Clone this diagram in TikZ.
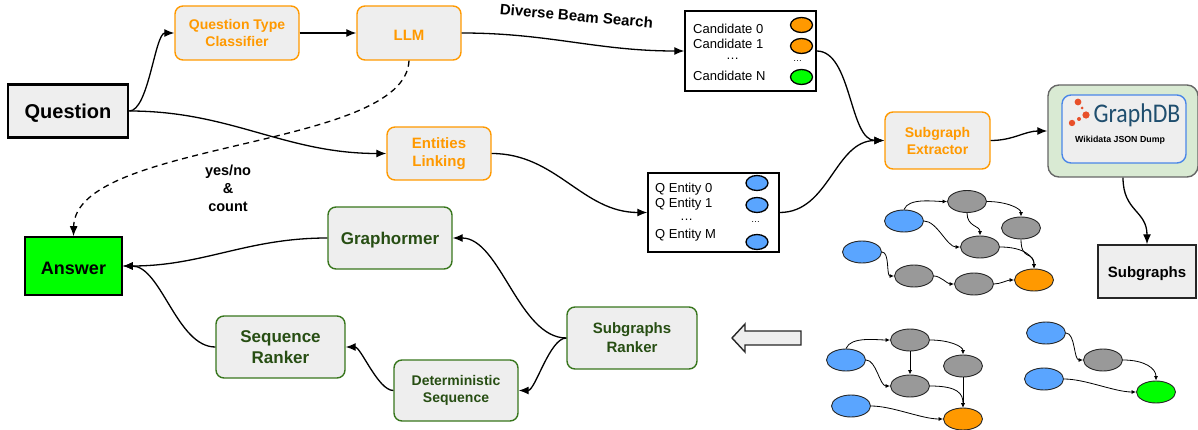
\documentclass[tikz,border=0pt]{standalone}
\usepackage{fontspec}
\setmainfont{Liberation Sans}
\newfontfamily\logofont[FakeStretch=0.88]{Carlito}
\usepackage{tikz}
\usepackage{xcolor}
\usetikzlibrary{arrows.meta}
\usetikzlibrary{shapes}
\definecolor{boxgray}{HTML}{EEEEEE}
\definecolor{nodegray}{HTML}{999999}
\definecolor{nodeblue}{HTML}{5AA5FF}
\definecolor{nodeorange}{HTML}{FF9900}
\definecolor{nodegreen}{HTML}{00FF00}
\definecolor{darkgreen}{HTML}{38761D}
\definecolor{textgreen}{HTML}{274E13}
\definecolor{dbgreen}{HTML}{D9EAD3}
\definecolor{dbblue}{HTML}{4A86E8}
\definecolor{dbtext}{HTML}{1F4E6E}
\definecolor{dbred}{HTML}{E8502A}
\newcommand{\fsize}[2]{\fontsize{#1}{#2}\selectfont}
\tikzstyle{lowered}=[execute at begin node={\rule{0pt}{.95em}}]
\tikzstyle{orangebox}=[draw=nodeorange, fill=boxgray, line width=1.4pt, rounded corners=8pt, align=center, text=nodeorange, inner sep=0pt, lowered]
\tikzstyle{greenbox}=[draw=darkgreen, fill=boxgray, line width=1.4pt, rounded corners=8pt, align=center, text=textgreen, inner sep=0pt, lowered]
\tikzstyle{listbox}=[draw=black, fill=white, line width=1.4pt, inner sep=0pt]
\tikzstyle{listtext}=[anchor=west, inner sep=0pt, font=\fsize{13}{15}]
\tikzstyle{token}=[ellipse, draw=black, line width=1.3pt, minimum width=22pt, minimum height=15pt, inner sep=0pt]
\tikzstyle{vertex}=[ellipse, draw=black!85, line width=.9pt, minimum width=39pt, minimum height=22pt, inner sep=0pt]
\tikzstyle{link}=[line width=1.3pt, -{Latex[length=10pt,width=8pt]}]
\tikzstyle{thin link}=[line width=.8pt, -{Latex[length=4.5pt,width=4pt]}, looseness=.75]
\begin{document}
\begin{tikzpicture}[x=1pt, y=-1pt]
\useasboundingbox (0,0) rectangle (1198,430);
%
	\node[draw=black, fill=boxgray, line width=2.6pt, minimum width=120pt, minimum height=53pt, inner sep=0pt, font=\fsize{20}{24}\bfseries, lowered] (question) at (68,111) {Question};
	\node[orangebox, minimum width=124pt, minimum height=54pt, font=\fsize{14}{17}\bfseries] (qtype) at (237,33) {Question Type\\Classifier};
	\node[orangebox, minimum width=104pt, minimum height=54pt, font=\fsize{15}{18}\bfseries] (llm) at (409,33) {LLM};
	\node[orangebox, minimum width=104pt, minimum height=53pt, font=\fsize{15}{18}\bfseries] (entities) at (439,153.5) {Entities\\Linking};
	\node[orangebox, minimum width=105pt, minimum height=57pt, font=\fsize{14}{17}\bfseries] (extractor) at (937.5,140.5) {Subgraph\\Extractor};
%
	\node[listbox, minimum width=131pt, minimum height=80pt] (candidates) at (750.5,51) {};
	\node[listtext] (cand0) at (693,28.5) {Candidate 0};
	\node[listtext] (cand1) at (693,43.5) {Candidate 1};
	\node[listtext] (canddots) at (726,59) {\dots};
	\node[listtext] (candN) at (693,75.5) {Candidate N};
	\node[token, fill=nodeorange] (candtoken0) at (801.5,25) {};
	\node[token, fill=nodeorange] (candtoken1) at (801.5,46) {};
	\node[listtext, font=\fsize{9}{11}] (tokendots) at (793,61) {\dots};
	\node[token, fill=nodegreen] (candtokenN) at (801.5,77) {};
%
	\node[listbox, minimum width=131pt, minimum height=79pt] (qentities) at (713.5,212.5) {};
	\node[listtext] (qent0) at (655,189.5) {Q Entity 0};
	\node[listtext] (qent1) at (655,204.5) {Q Entity 1};
	\node[listtext] (qentdots) at (680,220) {\dots};
	\node[listtext] (qentM) at (655,235.5) {Q Entity M};
	\node[token, fill=nodeblue] (qtoken0) at (757,183) {};
	\node[token, fill=nodeblue] (qtoken1) at (757,205) {};
	\node[listtext, font=\fsize{9}{11}] (qtokendots) at (751,222) {\dots};
	\node[token, fill=nodeblue] (qtokenM) at (757,242) {};
%
	\node[draw=black!60, fill=dbgreen, line width=1.4pt, rounded corners=11pt, minimum width=150pt, minimum height=92pt, inner sep=0pt] (graphdb) at (1123,131) {};
	\node[draw=dbblue, fill=boxgray, line width=1.4pt, rounded corners=9pt, minimum width=124pt, minimum height=68pt, inner sep=0pt] (graphdbin) at (1124,129) {};
	\node[inner sep=0pt, text=dbtext, font=\logofont\fsize{27}{30}] (logo) at (1137,115) {GraphDB};
	\fill[dbred] (1078,102) circle (3.4pt);
	\fill[dbred] (1082,108) circle (1.5pt);
	\fill[dbred] (1086,115) circle (3.6pt);
	\fill[dbred] (1079,119) circle (2pt);
	\fill[dbred] (1072,123) circle (3.2pt);
	\node[inner sep=0pt, font=\fsize{8.8}{10}\bfseries] (dump) at (1120,140) {Wikidata JSON Dump};
	\node[draw=black!85, fill=boxgray, line width=1.4pt, minimum width=98pt, minimum height=53pt, inner sep=0pt, font=\fsize{15}{18}\bfseries, lowered] (subgraphs) at (1147,271.5) {Subgraphs};
%
	\node[draw=black, fill=nodegreen, line width=1.6pt, minimum width=97pt, minimum height=58pt, inner sep=0pt, font=\fsize{18}{21}\bfseries, lowered] (answer) at (73.5,266) {Answer};
	\node[greenbox, minimum width=124pt, minimum height=62pt, font=\fsize{17}{20}\bfseries] (graphormer) at (390,238) {Graphormer};
	\node[greenbox, minimum width=129pt, minimum height=62pt, font=\fsize{17}{20.5}\bfseries] (seqranker) at (280.5,347) {Sequence\\Ranker};
	\node[greenbox, minimum width=124pt, minimum height=61pt, font=\fsize{14}{17}\bfseries] (detseq) at (456,390.5) {Deterministic\\Sequence};
	\node[greenbox, minimum width=130pt, minimum height=62pt, font=\fsize{15}{19}\bfseries] (ranker) at (632,338) {Subgraphs\\Ranker};
%
	\node[inner sep=0pt, rotate=-5, font=\fsize{15}{17}\bfseries] (beam) at (576.5,16) {Diverse Beam Search};
	\node[inner sep=0pt, align=center, font=\fsize{14.5}{18}\bfseries] (yesno) at (228,188) {yes/no\\\&\\count};
%
	\draw[link] (question.east) to[out=0, in=180, looseness=.55] (qtype.west);
	\draw[link] (question.east) to[out=0, in=180] (entities.west);
	\draw[link] (qtype.east) -- (llm.west);
	\draw[link] (llm.east) to[out=0, in=180] (candidates.west);
	\draw[link, dash pattern=on 6pt off 4.5pt] (llm.south) .. controls (405,150) and (75,140) .. (answer.north);
	\draw[link] (entities.east) to[out=0, in=180] (qentities.west);
	\draw[link] (candidates.east) to[out=0, in=180, looseness=.8] (extractor.west);
	\draw[link] (qentities.east) to[out=0, in=180] (extractor.west);
	\draw[link] (extractor.east) to[out=0, in=180] (graphdb.west);
	\draw[link] (graphdb.south) .. controls +(0,34) and +(0,-34) .. (subgraphs.north);
	\draw[link] (graphormer.west) to[out=180, in=0] (answer.east);
	\draw[link] (seqranker.west) to[out=180, in=0, looseness=.8] (answer.east);
	\draw[link] (ranker.west) to[out=180, in=0, looseness=.8] (graphormer.east);
	\draw[link] (ranker.west) to[out=180, in=0, looseness=.6] (detseq.east);
	\draw[link] (detseq.west) to[out=180, in=0, looseness=.6] (seqranker.east);
%
	\draw[fill=boxgray, line width=1.4pt, draw=black!85] (732,338) -- (745,324) -- (745,331) -- (801,331) -- (801,345) -- (745,345) -- (745,352) -- cycle;
%
	\node[vertex, fill=nodegray] (atop) at (967,201.5) {};
	\node[vertex, fill=nodeblue] (asource) at (904,221) {};
	\node[vertex, fill=nodegray] (aright) at (1021,228) {};
	\node[vertex, fill=nodegray] (amid) at (980,247) {};
	\node[vertex, fill=nodeblue] (bsource) at (862,252) {};
	\node[vertex, fill=nodegray] (bone) at (914,276) {};
	\node[vertex, fill=nodegray] (btwo) at (974,284) {};
	\node[vertex, fill=nodeorange] (atarget) at (1034,280) {};
	\draw[thin link] (asource.north) to[out=70, in=180] (atop.west);
	\draw[thin link] (atop.east) .. controls +(20,0) and +(0,-8) .. (aright.north);
	\draw[thin link] (atop.south) .. controls +(0,14) and +(0,-10) .. (amid.north);
	\draw[thin link] (asource.east) to[out=0, in=180] (amid.west);
	\draw[thin link] (amid.east) .. controls +(24,0) and +(0,-12) .. (atarget.north);
	\draw[thin link] (aright.south) .. controls +(0,22) and +(0,-18) .. (atarget.north);
	\draw[thin link] (bsource.east) to[out=0, in=180] (bone.west);
	\draw[thin link] (bone.east) to[out=0, in=180] (btwo.west);
	\draw[thin link] (btwo.east) to[out=0, in=180] (atarget.west);
%
	\node[vertex, fill=nodegray] (ctop) at (910,340) {};
	\node[vertex, fill=nodeblue] (csource) at (846,360) {};
	\node[vertex, fill=nodegray] (cright) at (963,366) {};
	\node[vertex, fill=nodegray] (cmid) at (910,386) {};
	\node[vertex, fill=nodeblue] (dsource) at (851,406) {};
	\node[vertex, fill=nodeorange] (ctarget) at (963,419) {};
	\draw[thin link] (csource.north) to[out=70, in=180] (ctop.west);
	\draw[thin link] (ctop.east) .. controls +(20,0) and +(0,-8) .. (cright.north);
	\draw[thin link] (ctop.south) -- (cmid.north);
	\draw[thin link] (csource.east) to[out=0, in=180] (cmid.west);
	\draw[thin link] (cmid.east) .. controls +(28,0) and +(0,-14) .. (ctarget.north);
	\draw[thin link] (cright.south) -- (ctarget.north);
	\draw[thin link] (dsource.east) to[out=0, in=180] (ctarget.west);
%
	\node[vertex, fill=nodeblue] (esource) at (1046,333) {};
	\node[vertex, fill=nodegray] (emid) at (1103,360) {};
	\node[vertex, fill=nodeblue] (fsource) at (1044,379) {};
	\node[vertex, fill=nodegreen] (etarget) at (1156,392) {};
	\draw[thin link] (esource.east) to[out=0, in=180] (emid.west);
	\draw[thin link] (emid.east) .. controls +(22,0) and +(0,-12) .. (etarget.north);
	\draw[thin link] (fsource.east) to[out=0, in=180] (etarget.west);
\end{tikzpicture}
\end{document}
